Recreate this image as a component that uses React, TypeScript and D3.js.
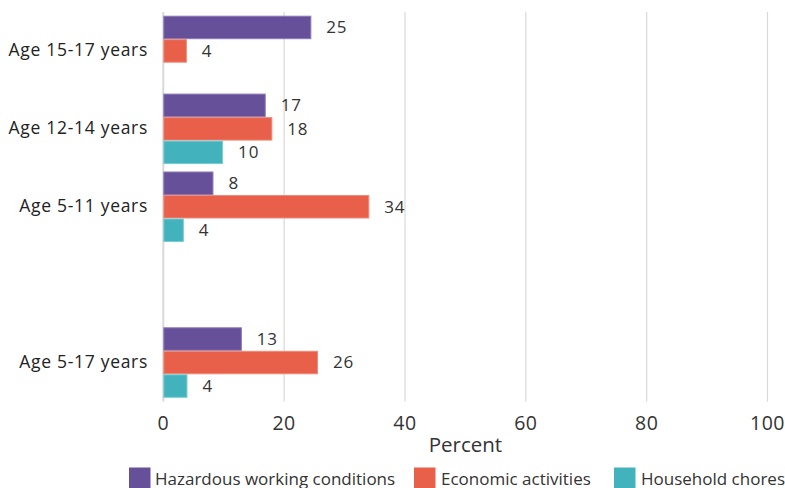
import React from "react";
import * as d3 from "d3";

const categories = ["Age 15-17 years", "Age 12-14 years", "Age 5-11 years", "", "Age 5-17 years"];
const seriesNames = ["Hazardous working conditions", "Economic activities", "Household chores"];
const hazardous: (number | null)[] = [24.5, 16.95, 8.3, null, 13.0];
const economic: (number | null)[] = [3.9, 18.05, 34.1, null, 25.6];
const household: (number | null)[] = [null, 9.9, 3.4, null, 4.0];
const hazardousLabels = ["25", "17", "8", "", "13"];
const economicLabels = ["4", "18", "34", "", "26"];
const householdLabels = ["", "10", "4", "", "4"];
const xTicks = [0, 20, 40, 60, 80, 100];
const colors = ["#67509a", "#e8604a", "#42b2bc"];
const strokes = ["#8a78b8", "#f08a78", "#78cdd3"];

const W = 785;
const H = 488;
const FONT = "'Open Sans', 'Liberation Sans', sans-serif";

export default function App() {
  const series = [hazardous, economic, household];
  const labels = [hazardousLabels, economicLabels, householdLabels];
  const x = d3.scaleLinear().domain([0, 100]).range([163.3, 767.5]);
  const y = d3
    .scaleBand<string>()
    .domain(categories.map((c, i) => String(i)))
    .range([12, 401.5])
    .paddingInner(0.095)
    .paddingOuter(0.0475);
  const inner = d3
    .scaleBand<number>()
    .domain([0, 1, 2])
    .range([0, y.bandwidth()])
    .padding(0);

  const legendItems = [
    { x: 129, tx: 155 },
    { x: 414, tx: 441 },
    { x: 614, tx: 641 },
  ];

  return (
    <svg
      width={W}
      height={H}
      style={{ position: "absolute", left: 0, top: 0, background: "#fff" }}
      fontFamily={FONT}
    >
      {xTicks.map((t) => (
        <line
          key={"g" + t}
          x1={x(t)}
          x2={x(t)}
          y1={12}
          y2={401.5}
          stroke="#d9d9d9"
          strokeWidth={t === 0 ? 2 : 1.2}
        />
      ))}
      {xTicks.map((t) => (
        <text
          key={"t" + t}
          x={x(t)}
          y={430}
          textAnchor="middle"
          fontSize={19.5}
          letterSpacing={0.5}
          fill="#333"
        >
          {t}
        </text>
      ))}
      <text x={(x(0) + x(100)) / 2} y={452} textAnchor="middle" fontSize={20.5} fill="#333">
        Percent
      </text>
      {categories.map((c, i) => (
        <text
          key={"c" + i}
          x={148}
          y={(y(String(i)) as number) + y.bandwidth() / 2 + 5.5}
          textAnchor="end"
          fontSize={17.5}
          letterSpacing={0.7}
          fill="#222"
        >
          {c}
        </text>
      ))}
      {series.map((vals, si) =>
        vals.map((v, ci) => {
          if (v === null) return null;
          const by = (y(String(ci)) as number) + (inner(si) as number);
          const bh = inner.bandwidth();
          return (
            <g key={`b${si}-${ci}`}>
              <rect
                x={x(0) + 0.5}
                y={by + 0.5}
                width={Math.max(0, x(v) - x(0) - 1)}
                height={bh - 1}
                fill={colors[si]}
                stroke={strokes[si]}
                strokeWidth={1}
              />
              <text
                x={x(v) + 15}
                y={by + bh / 2 + 5.8}
                fontSize={17}
                letterSpacing={0.8}
                fill="#333"
              >
                {labels[si][ci]}
              </text>
            </g>
          );
        })
      )}
      {seriesNames.map((n, i) => (
        <g key={"l" + i}>
          <rect x={legendItems[i].x} y={467.5} width={21.5} height={21} fill={colors[i]} />
          <text x={legendItems[i].tx} y={484.5} fontSize={17} fill="#333">
            {n}
          </text>
        </g>
      ))}
    </svg>
  );
}
